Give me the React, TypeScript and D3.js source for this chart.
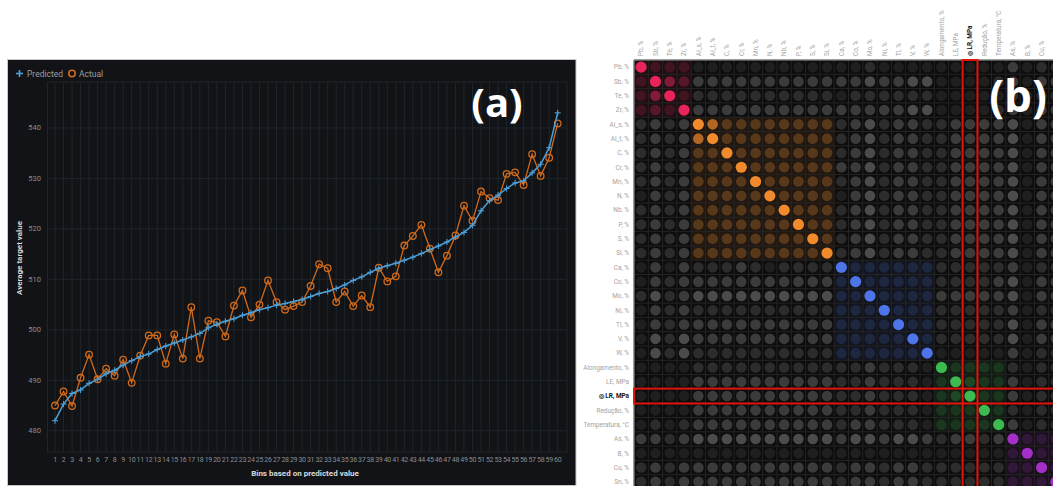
import React from "react";
import * as d3 from "d3";

// ---------- Panel (a) data ----------
const bins = d3.range(1, 61);
const predicted = [
  482.0, 485.3, 487.4, 488.1, 489.4, 490.2, 491.3, 492.0, 493.0, 493.9,
  494.7, 495.2, 496.1, 496.8, 497.4, 498.0, 498.6, 499.3, 500.4, 501.1,
  501.7, 502.2, 502.9, 503.4, 504.0, 504.4, 504.9, 505.2, 505.6, 506.0,
  506.6, 507.2, 507.6, 508.2, 508.9, 509.8, 510.5, 511.4, 512.2, 512.7,
  513.2, 513.8, 514.4, 515.1, 515.9, 516.6, 517.4, 518.4, 519.3, 520.7,
  523.6, 525.6, 526.7, 528.0, 529.1, 529.5, 531.1, 532.8, 536.1, 543.0,
];
const actual = [
  485.0, 487.8, 484.9, 490.5, 495.1, 490.2, 492.3, 490.9, 494.1, 489.5,
  494.9, 498.9, 498.9, 493.3, 499.1, 494.3, 504.5, 494.3, 501.8, 501.5,
  498.7, 504.8, 507.8, 502.5, 505.0, 509.8, 505.5, 504.0, 504.7, 505.5,
  508.7, 513.0, 512.2, 505.5, 507.6, 504.7, 506.8, 504.5, 512.3, 509.6,
  510.6, 516.7, 518.6, 520.8, 516.1, 511.4, 514.7, 518.7, 524.6, 521.6,
  527.4, 526.1, 525.7, 530.9, 531.2, 528.7, 534.8, 530.5, 534.1, 540.9,
];
const yTicks = [480, 490, 500, 510, 520, 530, 540];

// ---------- Panel (b) data ----------
const variables = [
  "Pb, %", "Sb, %", "Te, %", "Zr, %",
  "Al_s, %", "Al_t, %", "C, %", "Cr, %", "Mn, %", "N, %", "Nb, %", "P, %", "S, %", "Si, %",
  "Ca, %", "Co, %", "Mo, %", "Ni, %", "Ti, %", "V, %", "W, %",
  "Alongamento, %", "LE, MPa", "LR, MPa", "Redução, %", "Temperatura, °C",
  "As, %", "B, %", "Cu, %", "Sn, %",
];
const groupOf = [0,0,0,0, 1,1,1,1,1,1,1,1,1,1, 2,2,2,2,2,2,2, 3,3,3,3,3, 4,4,4,4];
const groupColors = ["#e8255b", "#f08a2c", "#4d74e8", "#3dbb50", "#a42fc8"];
const targetIndex = 23;
// strength level per cell (0-9), rows in variable order
const strengthRows = [
  "9222 1111111111 1121111 11111 3122",
  "2953 3333333333 3343344 11112 3133",
  "2592 2222222222 1222222 11111 2122",
  "2329 3333333333 3333344 11112 3133",
  "2323 9733333333 2342332 23333 4133",
  "2323 7933333333 2342332 23333 4133",
  "2323 3393333333 2342332 23333 4133",
  "2323 3339333333 3342332 23333 4133",
  "2323 3333933333 2342332 23333 4133",
  "1323 3333393333 1342332 23333 4133",
  "2323 3333339333 2342332 23333 4133",
  "2323 3333333933 2342332 23333 4133",
  "2323 3333333393 2342332 23333 4133",
  "2323 3333333339 2342332 23333 4133",
  "1313 2223212222 9222222 22222 3122",
  "1323 3333333333 2922222 22223 4133",
  "2423 4444444444 2292222 33333 4133",
  "1323 2222222222 2229222 22222 3122",
  "1323 3333333333 2222922 22222 4133",
  "1424 3333333333 2222292 22222 4133",
  "1424 2222222222 2222229 11111 3122",
  "1111 2222222222 2232221 92222 2122",
  "1111 3333333333 2232221 29322 3122",
  "1111 3333333333 2232221 23922 3122",
  "1111 3333333333 2232221 22292 2122",
  "1212 3333333333 2332221 22229 3122",
  "3323 4444444444 3443443 23323 9222",
  "1111 1111111111 1111111 11111 2922",
  "2323 3333333333 2332332 22222 2292",
  "2323 3333333333 2332332 22222 2229",
];

const grays = ["#111111", "#1f1f1f", "#2c2c2c", "#3b3b3b", "#4b4b4b", "#585858"];

function cellColor(i: number, j: number, lv: number) {
  const gi = groupOf[i], gj = groupOf[j];
  if (i === j) return groupColors[gi];
  if (gi === gj) return d3.interpolateRgb("#111111", groupColors[gi])(Math.min(0.85, lv * 0.1 + 0.02));
  return grays[Math.min(lv, grays.length - 1)];
}

function PanelA() {
  const x = d3.scalePoint<number>().domain(bins).range([55, 557.7]);
  const y = d3.scaleLinear().domain([475.8, 549.1]).range([452, 82]);
  const left = 47.5, right = 567, top = 82, bottom = 452;
  const line = d3.line<number>().x((_, i) => x(bins[i])!).y((d) => y(d));
  const gridCol = "#1d2629";
  const blue = "#4d9fd6";
  const orange = "#d06a1c";
  return (
    <g>
      <rect x={7.5} y={59.5} width={568.5} height={426} fill="#121317" stroke="#c9c9c9" strokeWidth={1} />
      {/* grid */}
      {bins.map((b) => (
        <line key={"vx" + b} x1={x(b)} x2={x(b)} y1={top} y2={bottom} stroke={gridCol} strokeWidth={1} />
      ))}
      <line x1={left} x2={left} y1={top} y2={bottom} stroke={gridCol} />
      <line x1={right} x2={right} y1={top} y2={bottom} stroke={gridCol} />
      {yTicks.map((t) => (
        <line key={"hy" + t} x1={left} x2={right} y1={y(t)} y2={y(t)} stroke={gridCol} strokeWidth={1} />
      ))}
      <line x1={left} x2={right} y1={top} y2={top} stroke={gridCol} />
      <line x1={left} x2={right} y1={bottom} y2={bottom} stroke={gridCol} />
      {/* y tick labels */}
      {yTicks.map((t) => (
        <text key={"yt" + t} x={41} y={y(t) + 2.5} fontSize={7.5} fill="#8a8d91" textAnchor="end" fontFamily="Roboto, sans-serif">{t}</text>
      ))}
      {/* x tick labels */}
      {bins.map((b) => (
        <text key={"xt" + b} x={x(b)} y={461.5} fontSize={7} fill="#8a8d91" textAnchor="middle" fontFamily="Roboto, sans-serif" letterSpacing={-0.3}>{b}</text>
      ))}
      {/* axis titles */}
      <text x={305} y={476} fontSize={8} fontWeight="bold" fill="#d9d9d9" textAnchor="middle" fontFamily="Roboto, sans-serif">Bins based on predicted value</text>
      <text transform={`translate(22,${258}) rotate(-90)`} fontSize={8} fontWeight="bold" fill="#d9d9d9" textAnchor="middle" fontFamily="Roboto, sans-serif">Average target value</text>
      {/* legend */}
      <g>
        <line x1={16} x2={23} y1={73.5} y2={73.5} stroke={blue} strokeWidth={1.6} />
        <line x1={19.5} x2={19.5} y1={70} y2={77} stroke={blue} strokeWidth={1.6} />
        <text x={27} y={76.5} fontSize={8.5} fill="#9a9da1" fontFamily="Roboto, sans-serif">Predicted</text>
        <circle cx={72} cy={73.5} r={3.2} fill="none" stroke={orange} strokeWidth={1.6} />
        <text x={79} y={76.5} fontSize={8.5} fill="#9a9da1" fontFamily="Roboto, sans-serif">Actual</text>
      </g>
      {/* actual series */}
      <path d={line(actual) || ""} fill="none" stroke={orange} strokeWidth={1.3} />
      {actual.map((v, i) => (
        <circle key={"a" + i} cx={x(bins[i])} cy={y(v)} r={3.3} fill="none" stroke={orange} strokeWidth={1.3} />
      ))}
      {/* predicted series */}
      <path d={line(predicted) || ""} fill="none" stroke={blue} strokeWidth={1.5} />
      {predicted.map((v, i) => {
        const cx = x(bins[i])!, cy = y(v);
        return (
          <g key={"p" + i} stroke={blue} strokeWidth={1.1}>
            <line x1={cx - 3} x2={cx + 3} y1={cy} y2={cy} />
            <line x1={cx} x2={cx} y1={cy - 3} y2={cy + 3} />
          </g>
        );
      })}
      <text x={497} y={117} fontSize={40} fontWeight="bold" fill="#ffffff" textAnchor="middle" fontFamily="'Open Sans', sans-serif">(a)</text>
    </g>
  );
}

function PanelB() {
  const n = variables.length;
  const idx = d3.range(n);
  const cell = 14.3;
  const x = d3.scaleBand<number>().domain(idx).range([634, 634 + n * cell]);
  const y = d3.scaleBand<number>().domain(idx).range([60, 60 + n * cell]);
  const levels = strengthRows.map((r) => r.replace(/ /g, "").split("").map(Number));
  const blocks: { g: number; s: number; e: number }[] = [];
  groupOf.forEach((g, i) => {
    if (i === 0 || groupOf[i - 1] !== g) blocks.push({ g, s: i, e: i });
    else blocks[blocks.length - 1].e = i;
  });
  const gx0 = x(0)!, gy0 = y(0)!;
  const gx1 = x(n - 1)! + cell, gy1 = y(n - 1)! + cell;
  return (
    <g>
      <rect x={gx0} y={gy0} width={gx1 - gx0} height={gy1 - gy0} fill="#0d0d0d" />
      {blocks.map((b) => (
        <rect key={"blk" + b.s} x={x(b.s)} y={y(b.s)} width={(b.e - b.s + 1) * cell} height={(b.e - b.s + 1) * cell}
          fill={groupColors[b.g]} opacity={0.09} />
      ))}
      {d3.range(n + 1).map((k) => (
        <g key={"gl" + k}>
          <line x1={gx0 + k * cell} x2={gx0 + k * cell} y1={gy0} y2={gy1} stroke="#262626" strokeWidth={0.9} />
          <line x1={gx0} x2={gx1} y1={gy0 + k * cell} y2={gy0 + k * cell} stroke="#262626" strokeWidth={0.9} />
        </g>
      ))}
      <line x1={gx0} x2={gx1} y1={gy0} y2={gy0} stroke="#9a9a9a" strokeWidth={1} />
      <line x1={gx0} x2={gx0} y1={gy0} y2={gy1} stroke="#9a9a9a" strokeWidth={1} />
      {levels.map((row, i) =>
        row.map((lv, j) => (
          <circle key={`c${i}-${j}`} cx={x(j)! + cell / 2} cy={y(i)! + cell / 2} r={i === j ? 5.6 : 5.3}
            fill={cellColor(i, j, lv)} />
        ))
      )}
      {/* row labels */}
      {variables.map((v, i) => (
        <text key={"rl" + i} x={629} y={y(i)! + cell / 2 + 2.3} fontSize={6.4} textAnchor="end"
          fill={i === targetIndex ? "#111" : "#a3a3a3"} fontWeight={i === targetIndex ? "bold" : "normal"}
          fontFamily="Roboto, sans-serif">
          {i === targetIndex ? "◎ " + v : v}
        </text>
      ))}
      {/* column labels */}
      {variables.map((v, j) => (
        <text key={"cl" + j} transform={`translate(${x(j)! + cell / 2 + 2.3},56) rotate(-90)`} fontSize={6.4}
          textAnchor="start" fill={j === targetIndex ? "#111" : "#a3a3a3"}
          fontWeight={j === targetIndex ? "bold" : "normal"} fontFamily="Roboto, sans-serif">
          {j === targetIndex ? "◎ " + v : v}
        </text>
      ))}
      {/* target highlights */}
      <rect x={x(targetIndex)! - 0.3} y={gy0} width={cell + 0.6} height={gy1 - gy0} fill="none" stroke="#e3120b" strokeWidth={2} />
      <rect x={gx0} y={y(targetIndex)! - 0.3} width={gx1 - gx0} height={cell + 0.6} fill="none" stroke="#e3120b" strokeWidth={2} />
      <text x={1018} y={112} fontSize={44} fontWeight="bold" fill="#ffffff" textAnchor="middle" fontFamily="'Open Sans', sans-serif">(b)</text>
    </g>
  );
}

export default function App() {
  return (
    <div style={{ position: "absolute", left: 0, top: 0, width: 1053, height: 486, background: "#fff", overflow: "hidden" }}>
      <svg width={1053} height={486} style={{ display: "block" }}>
        <rect x={0} y={0} width={1053} height={486} fill="#ffffff" />
        <PanelA />
        <PanelB />
      </svg>
    </div>
  );
}
